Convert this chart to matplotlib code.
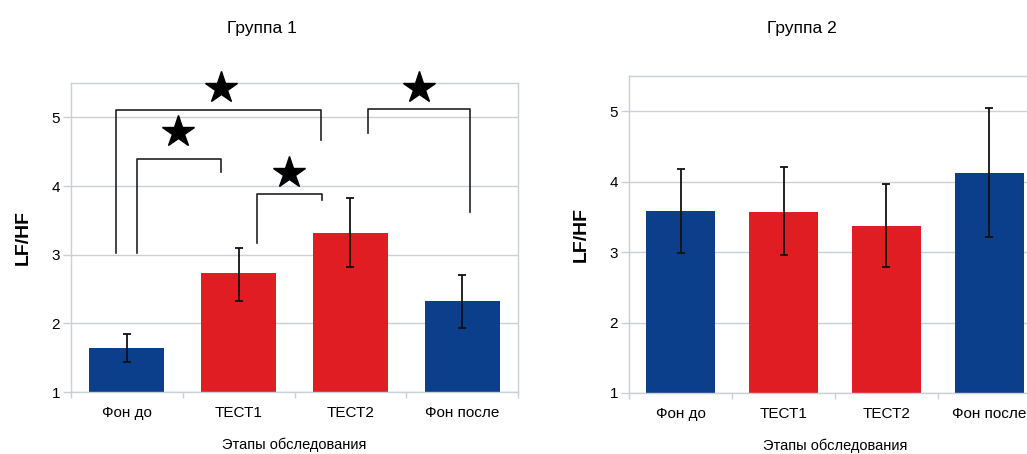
import matplotlib
matplotlib.use("Agg")
import matplotlib.pyplot as plt
import numpy as np

plt.rcParams['font.family'] = ['Liberation Sans', 'DejaVu Sans']

categories = ["Фон до", "ТЕСТ1", "ТЕСТ2", "Фон после"]
colors_cat = ["#0b3f8c", "#e01d22", "#e01d22", "#0b3f8c"]

g1_values = [1.64, 2.73, 3.31, 2.32]
g1_err_low = [1.43, 2.32, 2.82, 1.93]
g1_err_high = [1.85, 3.09, 3.82, 2.71]

g2_values = [3.58, 3.57, 3.37, 4.12]
g2_err_low = [2.99, 2.96, 2.79, 3.21]
g2_err_high = [4.18, 4.21, 3.97, 5.04]

titles = ["Группа 1", "Группа 2"]
y_label = "LF/HF"
x_label = "Этапы обследования"
y_ticks = [1, 2, 3, 4, 5]

# significance brackets (group 1): x_left, x_right, y_left_start, y_top, y_right_end
brackets = [
    (-0.10, 1.74, 3.02, 5.10, 4.67),
    (0.09, 0.84, 3.02, 4.40, 4.21),
    (1.16, 1.75, 3.17, 3.88, 3.79),
    (2.16, 3.07, 4.77, 5.12, 3.62),
]
stars_x = [0.84, 0.46, 1.45, 2.61]
stars_y = [5.42, 4.79, 4.19, 5.42]

fig = plt.figure(figsize=(10.27, 4.54), dpi=100)
ax1 = fig.add_axes([71/1027, 62/454, 447/1027, 309/454])
ax2 = fig.add_axes([629/1027, 61/454, 412/1027, 317/454])

grid_c = "#c9d0d6"

def draw(ax, vals, lo, hi):
    x = np.arange(len(categories))
    v = np.array(vals)
    yerr = np.vstack([v - np.array(lo), np.array(hi) - v])
    ax.bar(x, v - 1, bottom=1, width=0.67, color=colors_cat, zorder=2)
    ax.errorbar(x, v, yerr=yerr, fmt='none', ecolor='#111111', elinewidth=1.3,
                capsize=3, capthick=1.3, zorder=3)
    ax.set_xlim(-0.5, 3.5)
    ax.set_ylim(1, 5.5)
    ax.set_yticks(y_ticks)
    ax.yaxis.grid(True, color=grid_c, lw=1.0, zorder=0)
    ax.set_axisbelow(True)
    for s in ax.spines.values():
        s.set_color(grid_c)
        s.set_linewidth(1.0)
    ax.set_xticks(x)
    ax.set_xticklabels(categories, fontsize=11)
    ax.set_xticks(np.arange(-0.5, 4.0, 1.0), minor=True)
    ax.tick_params(axis='x', which='major', length=0, pad=10)
    ax.tick_params(axis='x', which='minor', length=4, color=grid_c, width=1)
    ax.tick_params(axis='y', length=6, color=grid_c, width=1, labelsize=11, pad=2)
    ax.set_ylabel(y_label, fontsize=14, fontweight='bold', labelpad=14)
    ax.set_xlabel(x_label, fontsize=10.5, labelpad=13)

draw(ax1, g1_values, g1_err_low, g1_err_high)
draw(ax2, g2_values, g2_err_low, g2_err_high)

for (xl, xr, yl, yt, yr) in brackets:
    ax1.plot([xl, xl, xr, xr], [yl, yt, yt, yr], color='#222222', lw=1.2,
             zorder=4, clip_on=False)
ax1.plot(stars_x, stars_y, linestyle='none', marker='*', ms=24, color='black',
         zorder=5, clip_on=False)

fig.text(262/1027, 1 - 28/454, titles[0], ha='center', va='center', fontsize=12.5)
fig.text(802/1027, 1 - 28/454, titles[1], ha='center', va='center', fontsize=12.5)

fig.savefig("out.png", dpi=100)
